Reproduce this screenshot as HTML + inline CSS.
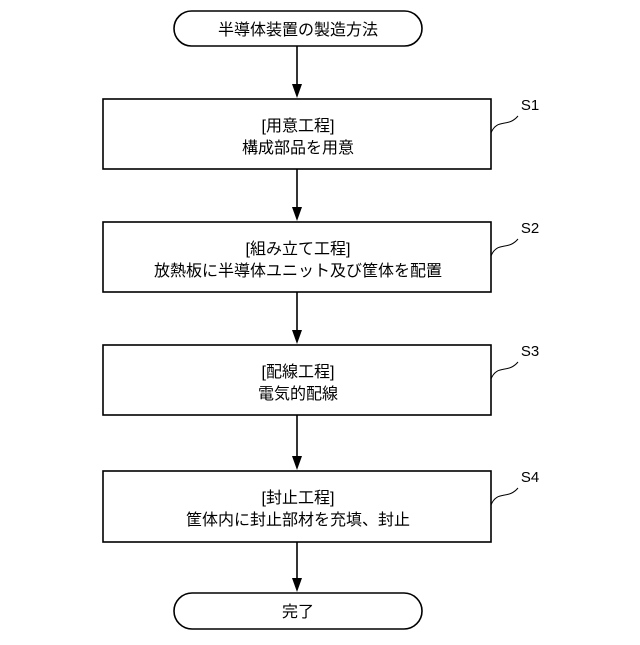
<!DOCTYPE html>
<html><head><meta charset="utf-8"><style>
html,body{margin:0;padding:0;background:#fff}
</style></head><body>
<svg width="640" height="640" viewBox="0 0 640 640" xmlns="http://www.w3.org/2000/svg" font-family="Liberation Sans, Noto Sans CJK JP, sans-serif" fill="none" stroke="#000" stroke-width="1.6">
<defs><marker id="a" markerWidth="10" markerHeight="14" refX="5" refY="14" orient="auto-start-reverse" markerUnits="userSpaceOnUse"><path d="M0,0 L10,0 L5,14 Z" fill="#000" stroke="none" transform="rotate(0)"/></marker></defs>
<rect x="174" y="11" width="248" height="35" rx="17.5" fill="#fff"/>
<rect x="103" y="99" width="388" height="70" fill="#fff"/>
<rect x="103" y="222" width="388" height="70" fill="#fff"/>
<rect x="103" y="345" width="388" height="70" fill="#fff"/>
<rect x="103" y="471" width="388" height="71" fill="#fff"/>
<rect x="174" y="593" width="248" height="36" rx="18" fill="#fff"/>
<g fill="#000" stroke="none">
<path d="M292,84 L302,84 L297,98 Z"/>
<path d="M292,207 L302,207 L297,221 Z"/>
<path d="M292,330 L302,330 L297,344 Z"/>
<path d="M292,456 L302,456 L297,470 Z"/>
<path d="M292,578 L302,578 L297,592 Z"/>
</g>
<line x1="297" y1="46" x2="297" y2="85"/>
<line x1="297" y1="169" x2="297" y2="208"/>
<line x1="297" y1="292" x2="297" y2="331"/>
<line x1="297" y1="415" x2="297" y2="457"/>
<line x1="297" y1="542" x2="297" y2="579"/>
<g stroke-width="1">
<path d="M491,133 C497,118 508,128 518,116"/>
<path d="M491,256 C497,241 508,251 518,239"/>
<path d="M491,379 C497,364 508,374 518,362"/>
<path d="M491,505 C497,490 508,500 518,488"/>
</g>
<g fill="#000" stroke="none" font-size="16" text-anchor="middle">
<text x="298" y="35">半導体装置の製造方法</text>
<text x="298" y="131">[用意工程]</text>
<text x="298" y="153">構成部品を用意</text>
<text x="298" y="254">[組み立て工程]</text>
<text x="298" y="276">放熱板に半導体ユニット及び筐体を配置</text>
<text x="298" y="377">[配線工程]</text>
<text x="298" y="399">電気的配線</text>
<text x="298" y="503">[封止工程]</text>
<text x="298" y="525">筐体内に封止部材を充填、封止</text>
<text x="298" y="617">完了</text>
<g font-size="15"><text x="530" y="110">S1</text><text x="530" y="233">S2</text><text x="530" y="356">S3</text><text x="530" y="482">S4</text></g>
</g>
</svg>
</body></html>
